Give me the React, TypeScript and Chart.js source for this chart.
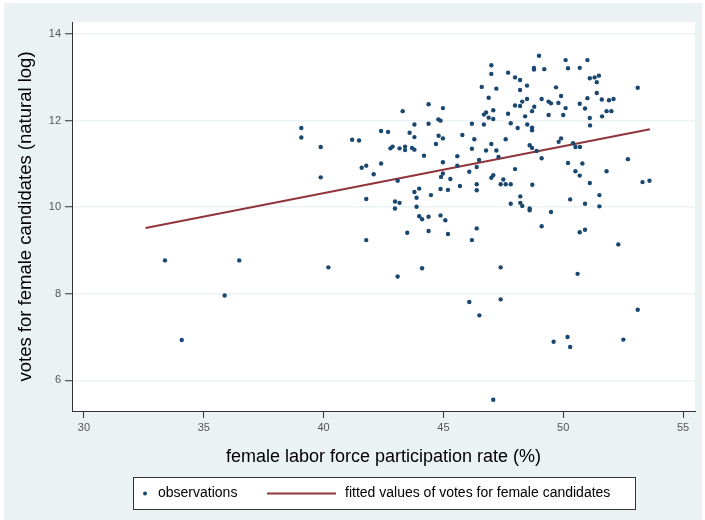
import React, { useEffect, useRef } from "react";
import { Chart, registerables } from "chart.js";

Chart.register(...registerables);

// female labor force participation rate (%)
const laborRate: number[] = [
  39.07, 39.07, 39.88, 39.88, 41.19, 41.48, 41.59, 41.78, 41.78, 42.09,
  42.40, 42.40, 42.69, 42.79, 42.88, 42.98, 42.98, 43.09, 43.17, 43.17,
  43.30, 43.40, 43.40, 43.59, 43.69, 43.79, 43.79, 43.79, 43.79, 43.88,
  43.88, 43.99, 43.99, 44.11, 44.19, 44.38, 44.38, 44.38, 44.48, 44.69,
  44.79, 44.88, 44.80, 44.98, 44.98, 44.98, 44.90, 44.98, 44.88, 44.88,
  45.08, 45.19, 45.29, 45.58, 45.58, 45.69, 45.79, 46.08, 46.19, 46.19,
  46.29, 46.39, 46.39, 46.39, 46.49, 46.60, 46.69, 46.69, 46.78, 46.78,
  46.89, 46.89, 47.00, 47.00, 47.00, 47.08, 47.08, 47.00, 47.08,
  47.21, 47.21, 47.30, 47.60, 47.70, 47.70, 47.81, 47.99, 47.99, 47.99,
  48.10, 48.20, 48.20, 48.20, 48.29, 48.41, 48.49, 48.49, 48.50, 48.60,
  48.70, 48.70, 48.70, 48.70, 48.79, 48.78, 48.78, 48.89, 48.99, 49.10,
  49.10, 49.21, 49.39, 49.39, 49.49, 49.70, 49.80, 49.91, 49.91, 49.81,
  50.00, 50.10, 50.10, 50.20, 50.20, 50.41, 50.51, 50.70, 50.51, 50.69,
  50.69, 50.69, 50.80, 50.91, 51.01, 51.01, 51.11, 51.11, 51.12, 51.11,
  51.31, 51.40, 51.40, 51.49, 51.61, 51.62, 51.81, 52.01, 51.91, 52.10,
  51.81, 52.70, 53.11, 53.31, 53.60, 47.39, 47.50, 47.60, 47.81, 48.71,
  48.21, 48.21, 48.29, 47.81, 48.60, 48.60, 49.49, 50.29, 50.91, 51.51,
  51.51,
  43.49, 44.38, 45.19, 46.19, 46.39, 41.78, 40.20, 44.11, 43.09, 46.08,
  46.50, 47.08,
  49.10, 50.69, 50.91, 52.30, 47.39, 50.60, 47.39, 53.11, 49.60, 50.18,
  50.29, 52.51,
  33.38, 36.48, 35.87, 34.08,
];

// votes for female candidates (natural log)
const votesLog: number[] = [
  11.83, 11.61, 11.39, 10.69, 11.56, 11.54, 10.91, 10.96, 10.19, 10.76,
  11.76, 11.01, 11.74, 11.36, 11.40, 10.13, 9.97, 10.61, 10.10, 11.36,
  12.22, 11.40, 11.32, 11.72, 11.37, 11.91, 11.62, 11.33, 10.35, 10.22,
  10.01, 10.43, 9.79, 9.72, 11.19, 12.38, 11.93, 9.78, 10.28, 11.46,
  12.03, 12.00, 11.65, 12.29, 11.59, 11.04, 10.70, 10.78, 10.42, 9.81,
  9.70, 10.40, 10.65, 11.18, 10.96, 10.49, 11.67, 10.82, 11.93, 11.35,
  11.57, 10.93, 10.53, 10.39, 11.09, 12.78, 12.14, 11.91, 12.19, 11.31,
  12.53, 12.07, 13.28, 13.08, 11.46, 12.04, 12.24, 10.68, 10.74,
  12.74, 11.31, 11.16, 11.57, 13.11, 12.16, 11.94, 13.00, 12.35, 10.88,
  11.83, 12.94, 12.71, 12.34, 12.44, 12.10, 12.81, 12.50, 11.91, 11.43,
  11.37, 12.22, 11.84, 11.78, 12.32, 13.22, 13.18, 11.30, 13.50, 12.50,
  11.13, 13.19, 12.44, 12.13, 12.40, 12.77, 12.41, 12.57, 11.59, 11.51,
  12.13, 13.40, 12.29, 13.21, 11.02, 11.48, 11.39, 11.39, 10.83, 10.73,
  13.22, 12.39, 11.01, 12.28, 13.40, 12.52, 12.98, 12.06, 11.89, 10.56,
  13.00, 12.89, 12.64, 13.04, 12.49, 12.10, 12.22, 12.22, 12.47, 12.50,
  10.83, 11.11, 12.76, 10.58, 10.61, 10.53, 10.64, 10.53, 10.53, 10.52,
  10.25, 10.10, 10.03, 10.08, 9.97, 9.93, 9.89, 10.18, 10.08, 10.28,
  10.02,
  9.41, 9.45, 9.38, 9.24, 9.51, 9.24, 8.61, 8.59, 8.40, 7.81,
  7.50, 5.55,
  9.56, 9.42, 9.48, 9.14, 8.61, 8.46, 7.87, 7.63, 6.89, 7.00,
  6.77, 6.94,
  8.77, 8.77, 7.96, 6.93,
];

// fitted line end points
const fitX: number[] = [32.57, 53.62];
const fitY: number[] = [9.52, 11.8];

const xTicks: number[] = [30, 35, 40, 45, 50, 55];
const yTicks: number[] = [6, 8, 10, 12, 14];

const seriesLabels: string[] = ["observations", "fitted values of votes for female candidates"];

const NAVY = "#1a476f";
const MAROON = "#90353b";
const BG = "#eaf2f3";
const FONT = "'Liberation Sans', Arial, sans-serif";

const backgroundPlugin = {
  id: "stataBackground",
  beforeDraw(chart: any) {
    const { ctx, chartArea } = chart;
    ctx.save();
    ctx.fillStyle = "#ffffff";
    ctx.fillRect(0, 0, chart.width, chart.height);
    ctx.fillStyle = BG;
    ctx.fillRect(4, 3, chart.width - 7, chart.height - 3);
    ctx.fillStyle = "#ffffff";
    ctx.fillRect(chartArea.left, chartArea.top, chartArea.right - chartArea.left, chartArea.bottom - chartArea.top);
    ctx.restore();
  },
};

const legendPlugin = {
  id: "stataLegend",
  afterDraw(chart: any) {
    const { ctx } = chart;
    const ds = chart.data.datasets;
    const bx = 133.5, by = 477.5, bw = 502, bh = 32;
    const cy = by + bh / 2;
    ctx.save();
    ctx.fillStyle = "#ffffff";
    ctx.fillRect(bx, by, bw, bh);
    ctx.strokeStyle = "#333333";
    ctx.lineWidth = 1;
    ctx.strokeRect(bx, by, bw, bh);
    // marker
    ctx.fillStyle = ds[0].backgroundColor;
    ctx.beginPath();
    ctx.arc(145, cy, 2, 0, Math.PI * 2);
    ctx.fill();
    ctx.fillStyle = "#000000";
    ctx.font = `14px ${FONT}`;
    ctx.textBaseline = "middle";
    ctx.textAlign = "left";
    ctx.fillText(ds[0].label, 158, cy);
    // line
    ctx.strokeStyle = ds[1].borderColor;
    ctx.lineWidth = 2;
    ctx.beginPath();
    ctx.moveTo(267, cy);
    ctx.lineTo(336, cy);
    ctx.stroke();
    ctx.fillText(ds[1].label, 345, cy);
    ctx.restore();
  },
};

export default function App() {
  const ref = useRef<HTMLCanvasElement | null>(null);

  useEffect(() => {
    if (!ref.current) return;
    const points = laborRate.map((x, i) => ({ x, y: votesLog[i] }));
    const fit = fitX.map((x, i) => ({ x, y: fitY[i] }));
    const chart = new Chart(ref.current, {
      type: "scatter",
      data: {
        datasets: [
          {
            label: seriesLabels[0],
            data: points,
            backgroundColor: NAVY,
            borderWidth: 0,
            pointRadius: 2.2,
            pointHoverRadius: 2.2,
          },
          {
            label: seriesLabels[1],
            type: "line",
            data: fit,
            borderColor: MAROON,
            backgroundColor: MAROON,
            borderWidth: 2,
            pointRadius: 0,
            showLine: true,
            fill: false,
          } as any,
        ],
      },
      options: {
        responsive: false,
        animation: false,
        layout: { padding: { left: 0, top: 22, right: 10, bottom: 52 } },
        plugins: {
          legend: { display: false },
          tooltip: { enabled: false },
        },
        scales: {
          x: {
            type: "linear",
            min: 29.5,
            max: 55.5,
            afterBuildTicks: (s: any) => {
              s.ticks = xTicks.map((v) => ({ value: v }));
            },
            afterFit: (s: any) => {
              s.height = 57;
            },
            grid: {
              drawOnChartArea: false,
              drawTicks: true,
              tickLength: 7,
              tickColor: "#333333",
              tickWidth: 1,
            },
            border: { display: true, color: "#333333", width: 1 },
            ticks: {
              font: { family: FONT, size: 11 },
              color: "#555555",
              padding: 3,
              maxRotation: 0,
              autoSkip: false,
            },
            title: {
              display: true,
              text: "female labor force participation rate (%)",
              font: { family: FONT, size: 18 },
              color: "#000000",
              padding: { top: 0, bottom: 0 },
            },
          },
          y: {
            type: "linear",
            min: 5.29,
            max: 14.28,
            afterBuildTicks: (s: any) => {
              s.ticks = yTicks.map((v) => ({ value: v }));
            },
            afterFit: (s: any) => {
              s.width = 72;
            },
            grid: {
              color: BG,
              lineWidth: 1.5,
              drawTicks: true,
              tickLength: 7,
              tickColor: "#333333",
              tickWidth: 1,
            },
            border: { display: true, color: "#333333", width: 1 },
            ticks: {
              font: { family: FONT, size: 11 },
              color: "#555555",
              padding: 4,
              autoSkip: false,
            },
            title: {
              display: true,
              text: "votes for female candidates (natural log)",
              font: { family: FONT, size: 18.5 },
              color: "#000000",
              padding: { top: 15, bottom: 0 },
            },
          },
        },
      },
      plugins: [backgroundPlugin, legendPlugin],
    });
    return () => chart.destroy();
  }, []);

  return (
    <div style={{ position: "absolute", left: 0, top: 0, width: 705, height: 520 }}>
      <canvas ref={ref} width={705} height={520} style={{ width: 705, height: 520 }} />
    </div>
  );
}
